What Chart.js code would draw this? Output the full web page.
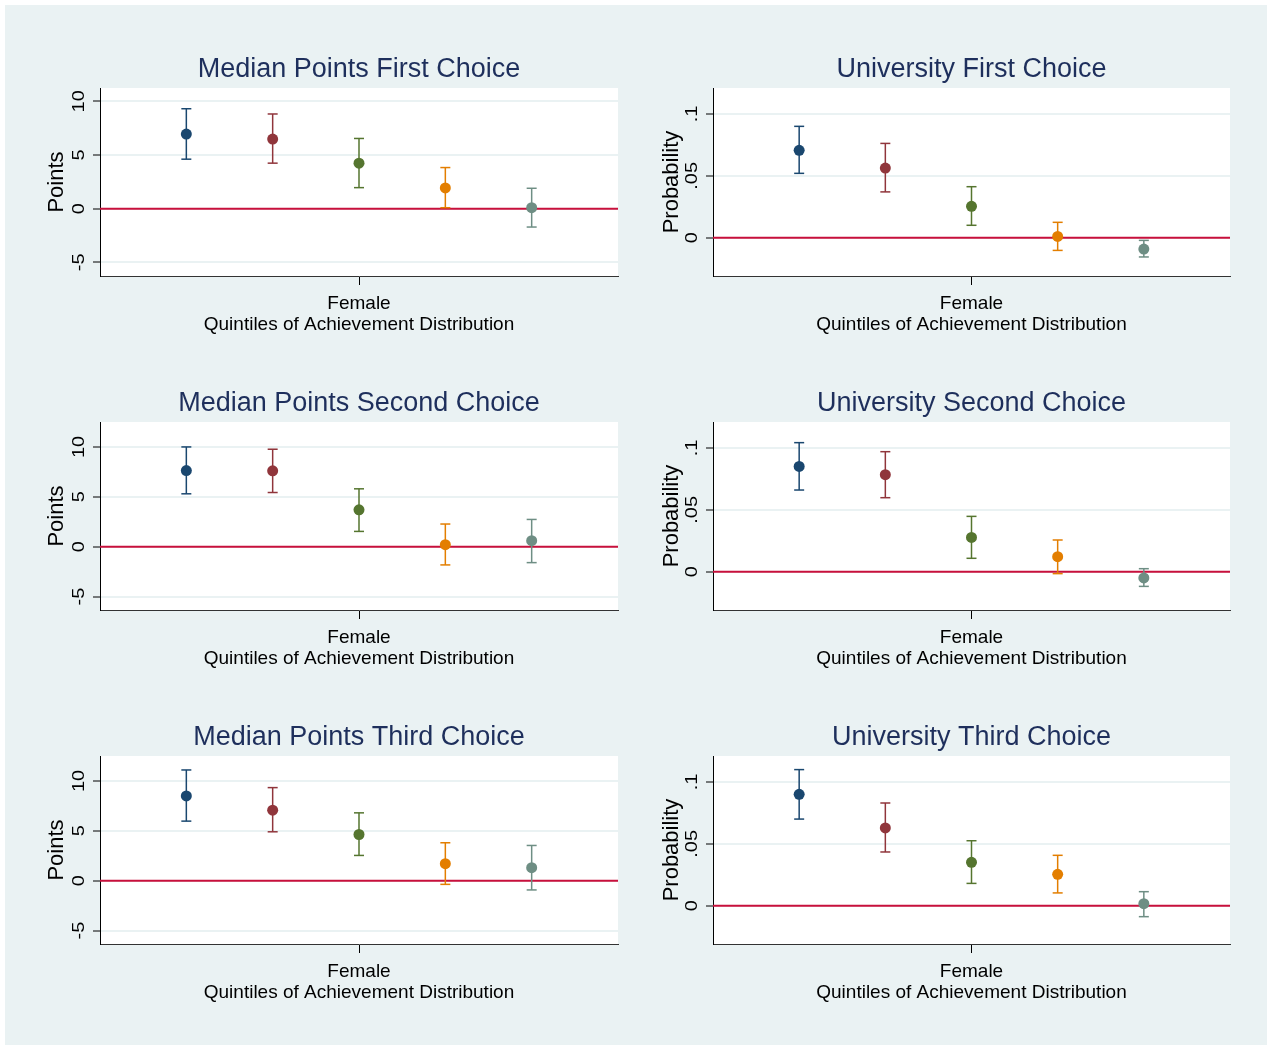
<!DOCTYPE html>
<html>
<head>
<meta charset="utf-8">
<script src="https://cdn.jsdelivr.net/npm/chart.js@4.4.0/dist/chart.umd.min.js"></script>
<style>
  body { margin: 0; background: #fff; }
  #page { position: relative; width: 1267px; height: 1045px; overflow: hidden; background: #fff; }
  #bg { position: absolute; left: 5px; top: 5px; right: 0; bottom: 0; background: #eaf2f3; }
  canvas { position: absolute; }
</style>
</head>
<body>
<div id="page">
  <div id="bg"></div>
  <canvas id="c1" width="600" height="300" style="left:30px;top:40px"></canvas>
  <canvas id="c2" width="600" height="300" style="left:643px;top:40px"></canvas>
  <canvas id="c3" width="600" height="300" style="left:30px;top:374px"></canvas>
  <canvas id="c4" width="600" height="300" style="left:643px;top:374px"></canvas>
  <canvas id="c5" width="600" height="300" style="left:30px;top:708px"></canvas>
  <canvas id="c6" width="600" height="300" style="left:643px;top:708px"></canvas>
</div>
<script>
// quintiles of the achievement distribution, plotted around the "Female" tick
const quintileX = [-2, -1, 0, 1, 2];
const quintileColors = ['#1a476f', '#90353b', '#55752f', '#e37e00', '#6e8e84'];
const xTickLabel = 'Female';
const xAxisTitle = 'Quintiles of Achievement Distribution';

const pointsTicks = [-5, 0, 5, 10];
const pointsTickLabels = ['-5', '0', '5', '10'];
const probTicks = [0, 0.05, 0.1];
const probTickLabels = ['0', '.05', '.1'];

// Median points (estimate, lower CI, upper CI)
const pts1Est = [6.95, 6.48, 4.24, 1.93, 0.09];
const pts1Lo  = [4.61, 4.24, 1.96, 0.09, -1.71];
const pts1Hi  = [9.31, 8.82, 6.54, 3.83, 1.90];
const pts2Est = [7.63, 7.60, 3.70, 0.20, 0.60];
const pts2Lo  = [5.30, 5.43, 1.53, -1.83, -1.60];
const pts2Hi  = [10.0, 9.77, 5.80, 2.27, 2.73];
const pts3Est = [8.50, 7.07, 4.63, 1.70, 1.30];
const pts3Lo  = [5.97, 4.90, 2.53, -0.37, -0.93];
const pts3Hi  = [11.1, 9.33, 6.80, 3.80, 3.53];

// University probability (estimate, lower CI, upper CI)
const uni1Est = [0.0706, 0.0563, 0.0253, 0.0010, -0.0092];
const uni1Lo  = [0.0520, 0.0370, 0.0100, -0.0103, -0.0156];
const uni1Hi  = [0.0900, 0.0762, 0.0412, 0.0124, -0.0022];
const uni2Est = [0.0851, 0.0784, 0.0277, 0.0121, -0.0051];
const uni2Lo  = [0.0660, 0.0598, 0.0108, -0.0016, -0.0119];
const uni2Hi  = [0.1043, 0.0970, 0.0447, 0.0256, 0.0024];
const uni3Est = [0.0900, 0.0628, 0.0350, 0.0253, 0.0016];
const uni3Lo  = [0.0700, 0.0434, 0.0180, 0.0103, -0.0089];
const uni3Hi  = [0.1100, 0.0830, 0.0525, 0.0407, 0.0113];

const FONT = '"Liberation Sans", Arial, Helvetica, sans-serif';
Chart.defaults.font.family = FONT;

// white plot region + vertical (rotated) y tick labels
const panelPlugin = {
    id: 'panelPlugin',
    beforeDraw(chart) {
        const { ctx, chartArea: a } = chart;
        ctx.save();
        ctx.fillStyle = '#fff';
        ctx.fillRect(a.left, a.top, a.right - a.left, a.bottom - a.top);
        ctx.restore();
    },
    afterDraw(chart) {
        const { ctx } = chart;
        const y = chart.scales.y;
        const labels = chart.options.plugins.panelPlugin.labels;
        ctx.save();
        ctx.font = '20px ' + FONT;
        ctx.fillStyle = '#000';
        ctx.textAlign = 'center';
        ctx.textBaseline = 'alphabetic';
        y.ticks.forEach((t, i) => {
            const py = y.getPixelForValue(t.value);
            ctx.save();
            ctx.translate(y.right - 16, py);
            ctx.rotate(-Math.PI / 2);
            ctx.scale(1, 0.8);
            ctx.fillText(labels[i], 0, 0);
            ctx.restore();
        });
        ctx.restore();
    }
};

function makePanel(id, title, yTitle, yTitlePad, ticks, tickLabels, yMin, yMax, est, lo, hi, padRight) {
    const datasets = [{
        data: quintileX.map((x, i) => ({ x: x, y: est[i] })),
        backgroundColor: quintileColors,
        pointRadius: 5.5,
        pointBorderWidth: 0,
        showLine: false
    }];
    quintileX.forEach((x, i) => {
        datasets.push({
            data: [{ x: x, y: lo[i] }, { x: x, y: hi[i] }],
            showLine: true,
            borderColor: quintileColors[i],
            borderWidth: 1.5,
            pointStyle: 'line',
            pointRadius: 5,
            pointBorderColor: quintileColors[i],
            pointBorderWidth: 1.5
        });
    });
    datasets.push({
        data: [{ x: -3, y: 0 }, { x: 3, y: 0 }],
        showLine: true,
        borderColor: '#c8103c',
        borderWidth: 2,
        pointRadius: 0
    });

    return new Chart(document.getElementById(id), {
        type: 'scatter',
        data: { datasets: datasets },
        plugins: [panelPlugin],
        options: {
            responsive: false,
            animation: false,
            layout: { padding: { left: 0, right: padRight, top: 0, bottom: 0 } },
            plugins: {
                legend: { display: false },
                tooltip: { enabled: false },
                title: {
                    display: true,
                    fullSize: false,
                    text: title,
                    color: '#1e2f5c',
                    font: { size: 27, weight: 'normal', lineHeight: 1 },
                    padding: { top: 16, bottom: 5 }
                },
                panelPlugin: { labels: tickLabels }
            },
            scales: {
                x: {
                    type: 'linear',
                    min: -3, max: 3,
                    afterBuildTicks: (s) => { s.ticks = [{ value: 0 }]; },
                    afterFit: (s) => { s.height = 64; },
                    ticks: {
                        callback: () => xTickLabel,
                        color: '#000',
                        font: { size: 19, lineHeight: 1 },
                        padding: 9,
                        maxRotation: 0,
                        autoSkip: false
                    },
                    grid: { drawOnChartArea: false, drawTicks: true, tickLength: 9, tickColor: '#000' },
                    border: { display: true, color: '#333', width: 1 },
                    title: {
                        display: true,
                        text: xAxisTitle,
                        color: '#000',
                        font: { size: 19, lineHeight: 1 },
                        padding: { top: 0, bottom: 5.5 }
                    }
                },
                y: {
                    type: 'linear',
                    min: yMin, max: yMax,
                    afterBuildTicks: (s) => { s.ticks = ticks.map(v => ({ value: v })); },
                    afterFit: (s) => { s.width = 70; },
                    ticks: { display: false },
                    grid: { color: '#eaf2f3', lineWidth: 2, drawTicks: true, tickLength: 7, tickColor: '#000', tickWidth: 1 },
                    border: { display: true, color: '#000', width: 1 },
                    title: {
                        display: true,
                        text: yTitle,
                        color: '#000',
                        font: { size: 22, lineHeight: 1 },
                        padding: { top: yTitlePad, bottom: 0 }
                    }
                }
            }
        }
    });
}

makePanel('c1', 'Median Points First Choice', 'Points', 16, pointsTicks, pointsTickLabels, -6.27, 11.24, pts1Est, pts1Lo, pts1Hi, 12);
makePanel('c2', 'University First Choice', 'Probability', 17.5, probTicks, probTickLabels, -0.031, 0.121, uni1Est, uni1Lo, uni1Hi, 13);
makePanel('c3', 'Median Points Second Choice', 'Points', 16, pointsTicks, pointsTickLabels, -6.35, 12.5, pts2Est, pts2Lo, pts2Hi, 12);
makePanel('c4', 'University Second Choice', 'Probability', 17.5, probTicks, probTickLabels, -0.031, 0.121, uni2Est, uni2Lo, uni2Hi, 13);
makePanel('c5', 'Median Points Third Choice', 'Points', 16, pointsTicks, pointsTickLabels, -6.35, 12.5, pts3Est, pts3Lo, pts3Hi, 12);
makePanel('c6', 'University Third Choice', 'Probability', 17.5, probTicks, probTickLabels, -0.031, 0.121, uni3Est, uni3Lo, uni3Hi, 13);
</script>
</body>
</html>
